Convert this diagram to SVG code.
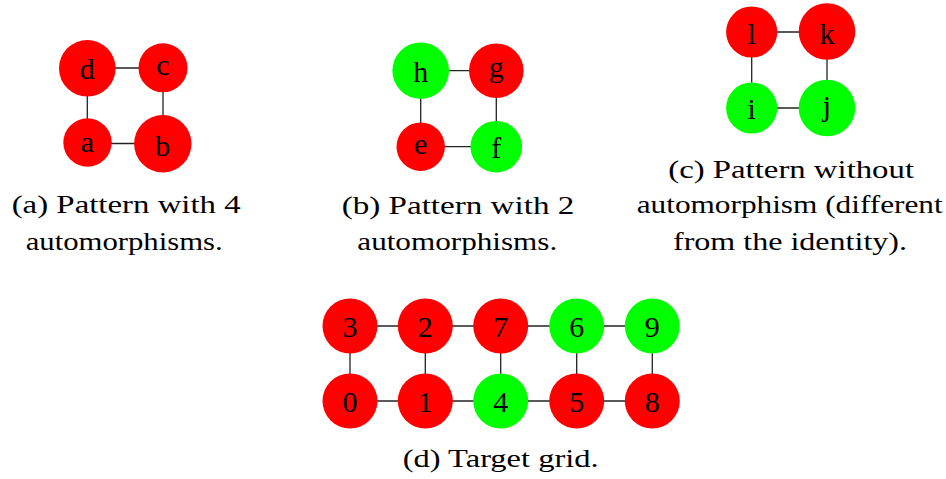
<svg xmlns="http://www.w3.org/2000/svg" width="946" height="479" viewBox="0 0 946 479">
<style>
.edge{stroke:#222;stroke-width:1.3;fill:none}
.r{fill:#ff0000}
.g{fill:#00ff00}
.lbl{font-family:"Liberation Serif","Times New Roman",serif;font-size:30px;fill:#000;text-anchor:middle}
.cap{font-family:"Liberation Serif","Times New Roman",serif;font-size:26px;fill:#000}
</style>
<rect width="946" height="479" fill="#fff"/>
<g id="connectors">
<line class="edge" x1="87.3" y1="68" x2="163" y2="68"/>
<line class="edge" x1="87.3" y1="68.3" x2="87.3" y2="142.5"/>
<line class="edge" x1="163" y1="67.8" x2="163" y2="143.7"/>
<line class="edge" x1="87.5" y1="143.5" x2="162.8" y2="143.5"/>
<line class="edge" x1="420.7" y1="70.7" x2="496.3" y2="70.7"/>
<line class="edge" x1="420.7" y1="70.7" x2="420.7" y2="146.7"/>
<line class="edge" x1="496.3" y1="70.7" x2="496.3" y2="146.7"/>
<line class="edge" x1="420.7" y1="146.7" x2="496.3" y2="146.7"/>
<line class="edge" x1="751.7" y1="32" x2="827" y2="32"/>
<line class="edge" x1="751.7" y1="32" x2="751.7" y2="108"/>
<line class="edge" x1="827" y1="32" x2="827" y2="108"/>
<line class="edge" x1="751.7" y1="108" x2="827" y2="108"/>
<line class="edge" x1="350" y1="326" x2="652.3" y2="326"/>
<line class="edge" x1="350" y1="401" x2="652.3" y2="401"/>
<line class="edge" x1="350" y1="326" x2="350" y2="401"/>
<line class="edge" x1="425.3" y1="326" x2="425.3" y2="401"/>
<line class="edge" x1="500.7" y1="326" x2="500.7" y2="401"/>
<line class="edge" x1="576.7" y1="326" x2="576.7" y2="401"/>
<line class="edge" x1="652.3" y1="326" x2="652.3" y2="401"/>
</g>
<g id="node-d"><circle class="r" cx="87.3" cy="68.3" r="28.3"/><text class="lbl" x="87.3" y="79.3">d</text></g>
<g id="node-c"><circle class="r" cx="163" cy="67.8" r="24.5"/><text class="lbl" x="163" y="75.3">c</text></g>
<g id="node-a"><circle class="r" cx="87.5" cy="142.5" r="24.2"/><text class="lbl" x="87.5" y="151.5">a</text></g>
<g id="node-b"><circle class="r" cx="162.8" cy="143.7" r="28.7"/><text class="lbl" x="162.8" y="155.5">b</text></g>
<g id="node-h"><circle class="g" cx="420.7" cy="70.7" r="28.3"/><text class="lbl" x="420.7" y="81.7">h</text></g>
<g id="node-g"><circle class="r" cx="496.3" cy="70.7" r="27.3"/><text class="lbl" x="496.3" y="76.7">g</text></g>
<g id="node-e"><circle class="r" cx="420.7" cy="146.7" r="24.2"/><text class="lbl" x="420.7" y="153.5">e</text></g>
<g id="node-f"><circle class="g" cx="496.3" cy="146.7" r="25.8"/><text class="lbl" x="496.3" y="157.7">f</text></g>
<g id="node-l"><circle class="r" cx="751.7" cy="32" r="25.6"/><text class="lbl" x="751.7" y="43.5">l</text></g>
<g id="node-k"><circle class="r" cx="827" cy="31.5" r="28.3"/><text class="lbl" x="827" y="43.5">k</text></g>
<g id="node-i"><circle class="g" cx="751.7" cy="108" r="25.6"/><text class="lbl" x="751.7" y="118.5">i</text></g>
<g id="node-j"><circle class="g" cx="827" cy="108" r="28.3"/><text class="lbl" x="827" y="115.5">j</text></g>
<g id="node-3"><circle class="r" cx="350" cy="326" r="27.5"/><text class="lbl" x="350" y="337">3</text></g>
<g id="node-2"><circle class="r" cx="425.3" cy="326" r="27.5"/><text class="lbl" x="425.3" y="337">2</text></g>
<g id="node-7"><circle class="r" cx="500.7" cy="326" r="27.5"/><text class="lbl" x="500.7" y="337">7</text></g>
<g id="node-6"><circle class="g" cx="576.7" cy="326" r="27.5"/><text class="lbl" x="576.7" y="337">6</text></g>
<g id="node-9"><circle class="g" cx="652.3" cy="326" r="27.5"/><text class="lbl" x="652.3" y="337">9</text></g>
<g id="node-0"><circle class="r" cx="350" cy="401" r="27.5"/><text class="lbl" x="350" y="412">0</text></g>
<g id="node-1"><circle class="r" cx="425.3" cy="401" r="27.5"/><text class="lbl" x="425.3" y="412">1</text></g>
<g id="node-4"><circle class="g" cx="500.7" cy="401" r="27.5"/><text class="lbl" x="500.7" y="412">4</text></g>
<g id="node-5"><circle class="r" cx="576.7" cy="401" r="27.5"/><text class="lbl" x="576.7" y="412">5</text></g>
<g id="node-8"><circle class="r" cx="652.3" cy="401" r="27.5"/><text class="lbl" x="652.3" y="412">8</text></g>
<g id="captions">
<text class="cap" x="11.7" y="213.3" textLength="229" lengthAdjust="spacingAndGlyphs">(a) Pattern with 4</text>
<text class="cap" x="25.7" y="250" textLength="197" lengthAdjust="spacingAndGlyphs">automorphisms.</text>
<text class="cap" x="341.7" y="214" textLength="232.6" lengthAdjust="spacingAndGlyphs">(b) Pattern with 2</text>
<text class="cap" x="357.3" y="250" textLength="200" lengthAdjust="spacingAndGlyphs">automorphisms.</text>
<text class="cap" x="668.3" y="177.7" textLength="245.7" lengthAdjust="spacingAndGlyphs">(c) Pattern without</text>
<text class="cap" x="636.7" y="213.3" textLength="306" lengthAdjust="spacingAndGlyphs">automorphism (different</text>
<text class="cap" x="673" y="250" textLength="234" lengthAdjust="spacingAndGlyphs">from the identity).</text>
<text class="cap" x="402.7" y="466.7" textLength="196" lengthAdjust="spacingAndGlyphs">(d) Target grid.</text>
</g>
</svg>
